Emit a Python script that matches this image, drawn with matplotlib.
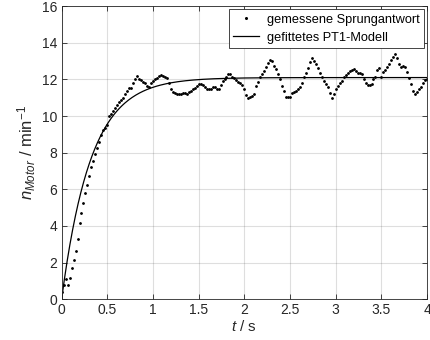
import numpy as np
import matplotlib
matplotlib.use("Agg")
import matplotlib.pyplot as plt

# measured step response (sampled uniformly from 0 to 4 s)
t_start, t_end = 0.0, 4.0
n_measured = [
    0.40, 0.80, 1.10, 0.78, 1.18, 1.70, 2.14, 2.63, 3.30, 4.18,
    4.70, 5.24, 5.78, 6.24, 6.73, 7.23, 7.55, 7.93, 8.27, 8.60,
    8.96, 9.24, 9.35, 9.50, 10.00, 10.09, 10.27, 10.45, 10.62, 10.75,
    10.85, 11.00, 11.20, 11.38, 11.55, 11.55, 11.80, 12.00, 12.18, 12.00,
    11.96, 11.85, 11.80, 11.65, 11.60, 11.80, 11.90, 12.00, 12.10, 12.18,
    12.24, 12.20, 12.12, 12.05, 11.78, 11.45, 11.30, 11.25, 11.22, 11.18,
    11.22, 11.25, 11.27, 11.20, 11.30, 11.36, 11.45, 11.55, 11.65, 11.76,
    11.77, 11.72, 11.60, 11.48, 11.46, 11.50, 11.58, 11.56, 11.49, 11.46,
    11.67, 11.90, 12.02, 12.15, 12.28, 12.30, 12.15, 12.05, 11.96, 11.88,
    11.82, 11.70, 11.45, 11.15, 10.97, 11.02, 11.10, 11.20, 11.62, 11.88,
    12.12, 12.30, 12.47, 12.70, 12.90, 13.04, 13.00, 12.75, 12.55, 12.28,
    12.00, 11.65, 11.35, 11.05, 11.02, 11.06, 11.24, 11.33, 11.38, 11.46,
    11.60, 11.82, 12.11, 12.36, 12.60, 12.96, 13.15, 13.02, 12.84, 12.60,
    12.33, 12.11, 11.93, 11.75, 11.60, 11.27, 10.97, 11.20, 11.46, 11.64,
    11.78, 11.93, 12.11, 12.22, 12.36, 12.47, 12.51, 12.55, 12.47, 12.36,
    12.33, 12.29, 12.00, 11.82, 11.69, 11.69, 11.75, 12.00, 12.14, 12.51,
    12.60, 12.14, 12.42, 12.51, 12.69, 12.84, 13.06, 13.24, 13.38, 13.15,
    12.84, 12.69, 12.73, 12.66, 12.42, 12.06, 11.75, 11.38, 11.20, 11.33,
    11.46, 11.57, 11.82, 11.96, 12.00,
]

# fitted PT1 model parameters
K_gain = 12.1
T_const = 0.32

x_ticks = [0, 0.5, 1, 1.5, 2, 2.5, 3, 3.5, 4]
x_ticklabels = ["0", "0.5", "1", "1.5", "2", "2.5", "3", "3.5", "4"]
y_ticks = [0, 2, 4, 6, 8, 10, 12, 14, 16]

legend_labels = ["gemessene Sprungantwort", "gefittetes PT1-Modell"]

plt.rcParams['font.family'] = ['Liberation Sans', 'DejaVu Sans']
plt.rcParams['mathtext.fontset'] = 'custom'
plt.rcParams['mathtext.rm'] = 'Liberation Sans'
plt.rcParams['mathtext.it'] = 'Liberation Sans:italic'

t_meas = np.linspace(t_start, t_end, len(n_measured))
t_fit = np.linspace(t_start, t_end, 400)
n_fit = K_gain * (1 - np.exp(-t_fit / T_const))

fig = plt.figure(figsize=(4.31, 3.40), dpi=100)
ax = fig.add_axes([0.143, 0.12, 0.848, 0.862])

axc = '#262626'
ax.plot(t_meas, n_measured, linestyle='none', marker='.', markersize=2.0,
        color='black', label=legend_labels[0])
ax.plot(t_fit, n_fit, color='black', linewidth=0.9, label=legend_labels[1])

ax.set_xlim(0, 4)
ax.set_ylim(0, 16)
ax.set_xticks(x_ticks)
ax.set_xticklabels(x_ticklabels)
ax.set_yticks(y_ticks)
ax.grid(True, color='#262626', alpha=0.15, linewidth=0.8)
ax.set_axisbelow(True)
ax.tick_params(direction='in', top=True, right=True, length=3.5,
               width=0.6, colors=axc, labelsize=10, pad=3)
for s in ax.spines.values():
    s.set_color(axc)
    s.set_linewidth(0.6)

ax.set_xlabel(r'$t$ / s', fontsize=11, color=axc, labelpad=1)
ax.set_ylabel(r'$n_{Motor}$ / min$^{-1}$', fontsize=12, color=axc, labelpad=3)

leg = ax.legend(loc='upper right', fontsize=9.2, frameon=True, fancybox=False,
                edgecolor=axc, framealpha=1, borderpad=0.35, handlelength=2.0,
                handletextpad=0.6, labelspacing=0.45, borderaxespad=0.25,
                markerscale=1.2)
leg.get_frame().set_linewidth(0.6)

fig.savefig('out.png', dpi=100)
